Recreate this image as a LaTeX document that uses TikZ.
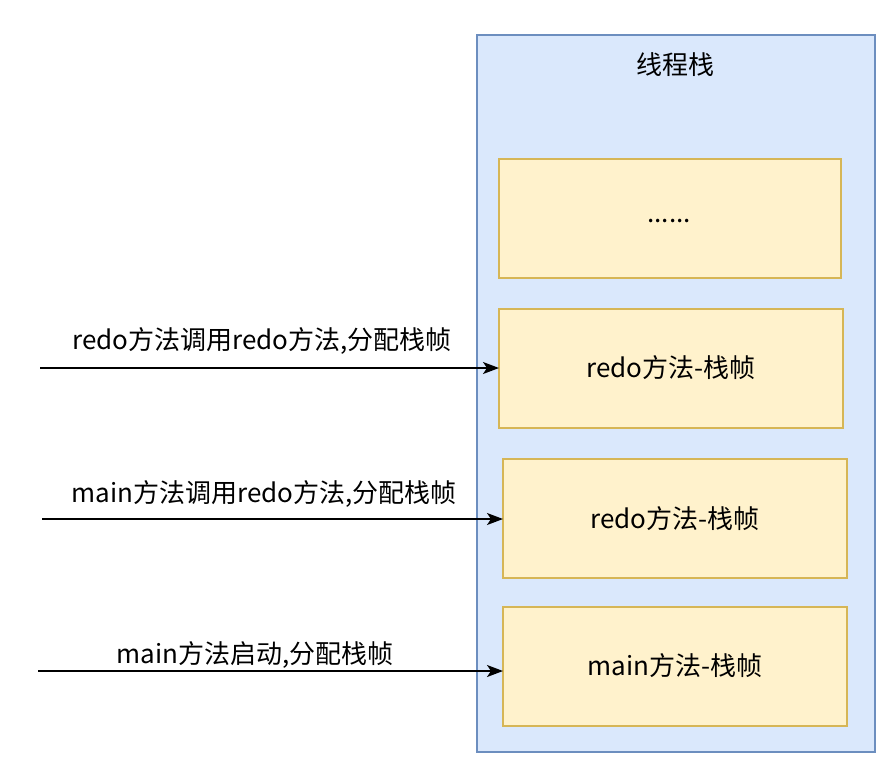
\documentclass[tikz,border=0pt]{standalone}
\usepackage{fontspec}
\setmainfont{Noto Sans CJK SC}
\usetikzlibrary{arrows.meta}
\definecolor{stackfill}{HTML}{DAE8FC}
\definecolor{stackline}{HTML}{6C8EBF}
\definecolor{framefill}{HTML}{FFF2CC}
\definecolor{frameline}{HTML}{D6B656}
\begin{document}
\begin{tikzpicture}[x=0.75pt,y=-0.75pt,
  stackbox/.style={draw=stackline,fill=stackfill,line width=1pt},
  framebox/.style={draw=frameline,fill=framefill,line width=1pt},
  lbl/.style={font=\fontsize{19.5}{23}\selectfont,text=black},
  conn/.style={-{Stealth[length=12pt,width=9pt,inset=3pt]},line width=1.2pt,black}]
\useasboundingbox (0,0) rectangle (888,776);
\fill[white] (0,0) rectangle (888,776);
\draw[stackbox] (477,35) rectangle (875,752);
\node[lbl] (title) at (675,65) {线程栈};
\draw[framebox] (499,159) rectangle (841,278);
\node[lbl] (f0) at (669,221) {......};
\draw[framebox] (499,309) rectangle (843,428);
\node[lbl] (f1) at (671,368) {redo方法-栈帧};
\coordinate (f1w) at (499,368);
\draw[framebox] (503,459) rectangle (847,578);
\node[lbl] (f2) at (675,519) {redo方法-栈帧};
\coordinate (f2w) at (503,519);
\draw[framebox] (503,607) rectangle (847,726);
\node[lbl] (f3) at (675,666) {main方法-栈帧};
\coordinate (f3w) at (503,671);
\coordinate (s1) at (40,368);
\coordinate (s2) at (42,519);
\coordinate (s3) at (38,671);
\draw[conn] (s1) -- (f1w);
\draw[conn] (s2) -- (f2w);
\draw[conn] (s3) -- (f3w);
\node[lbl] (l1) at (262,341) {redo方法调用redo方法,分配栈帧};
\node[lbl] (l2) at (264,494) {main方法调用redo方法,分配栈帧};
\node[lbl] (l3) at (255,655) {main方法启动,分配栈帧};
\end{tikzpicture}
\end{document}
